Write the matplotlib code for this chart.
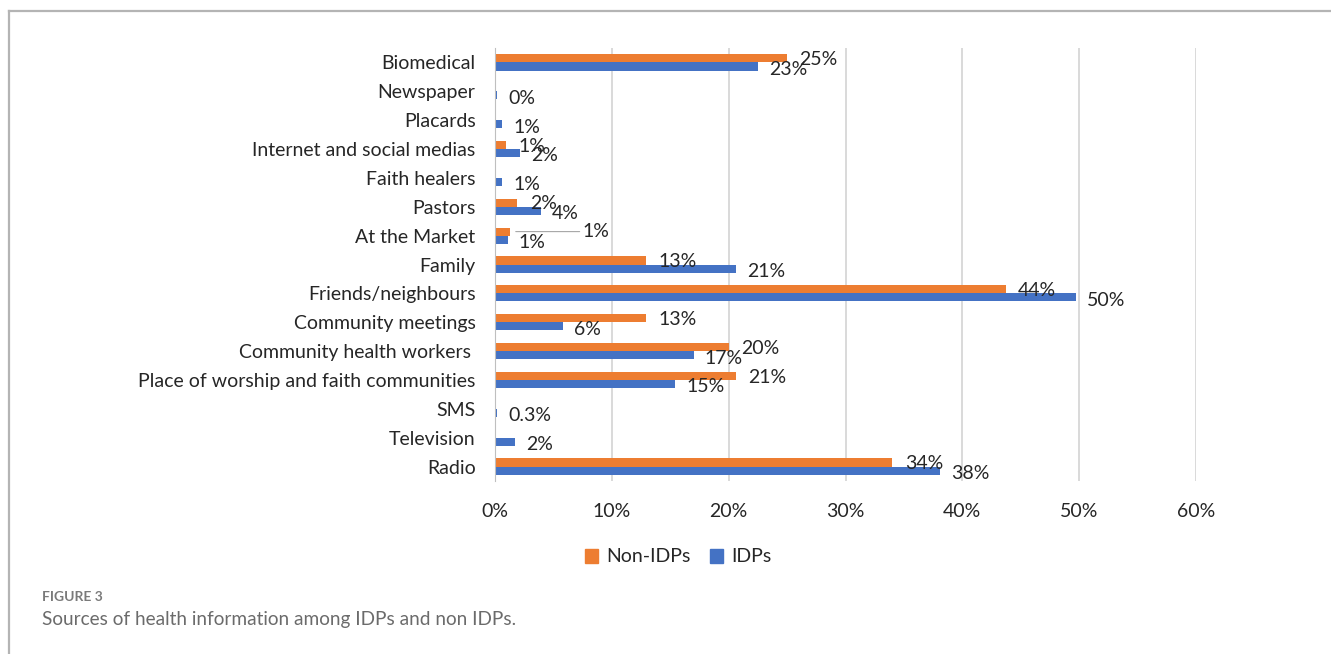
import matplotlib
matplotlib.use("Agg")
import matplotlib.pyplot as plt
from matplotlib.lines import Line2D
from matplotlib.patches import Patch
import numpy as np

plt.rcParams['font.family'] = ['Lato', 'DejaVu Sans']

categories = ['Biomedical', 'Newspaper', 'Placards', 'Internet and social medias',
              'Faith healers', 'Pastors', 'At the Market', 'Family',
              'Friends/neighbours', 'Community meetings', 'Community health workers ',
              'Place of worship and faith communities', 'SMS', 'Television', 'Radio']
non_idps = [25.0, 0, 0, 0.9, 0, 1.9, 1.3, 12.9, 43.7, 12.9, 20.0, 20.6, 0, 0, 34.0]
idps = [22.5, 0.2, 0.6, 2.1, 0.6, 3.9, 1.1, 20.6, 49.7, 5.8, 17.0, 15.4, 0.2, 1.7, 38.1]
non_labels = ['25%', '', '', '1%', '', '2%', '1%', '13%', '44%', '13%', '20%', '21%', '', '', '34%']
idp_labels = ['23%', '0%', '1%', '2%', '1%', '4%', '1%', '21%', '50%', '6%', '17%', '15%',
              '0.3%', '2%', '38%']
xticks = [0, 10, 20, 30, 40, 50, 60]

orange = '#ED7D31'
blue = '#4472C4'
txt = '#262626'
fs = 14

W, H = 1331, 654
fig = plt.figure(figsize=(W / 100, H / 100), dpi=100)

# card frame (top and left edges)
fig.add_artist(Line2D([9 / W, 1], [1 - 11 / H, 1 - 11 / H], color='#b4b4b4', lw=1.6))
fig.add_artist(Line2D([9 / W, 9 / W], [0, 1 - 11 / H], color='#b4b4b4', lw=1.6))

ax = fig.add_axes([495 / W, 1 - 481 / H, (1196 - 495) / W, (481 - 48) / H])

y = np.arange(len(categories))
h = 0.28
ax.barh(y - 0.14, non_idps, height=h, color=orange, label='Non-IDPs', zorder=3)
ax.barh(y + 0.14, idps, height=h, color=blue, label='IDPs', zorder=3)

for i in range(len(categories)):
    if non_labels[i]:
        if categories[i] == 'At the Market':
            ax.annotate(non_labels[i], (non_idps[i], y[i] - 0.14), xytext=(52, 0),
                        textcoords='offset points', va='center', ha='left',
                        fontsize=fs, color=txt,
                        arrowprops=dict(arrowstyle='-', color='#a6a6a6', lw=0.8,
                                        shrinkA=0, shrinkB=4))
        else:
            ax.annotate(non_labels[i], (non_idps[i], y[i] - 0.1), xytext=(9, 0),
                        textcoords='offset points', va='center', ha='left',
                        fontsize=fs, color=txt)
    ax.annotate(idp_labels[i], (idps[i], y[i] + 0.24), xytext=(8, 0),
                textcoords='offset points', va='center', ha='left',
                fontsize=fs, color=txt)

ax.set_xlim(0, 60)
ax.set_ylim(len(categories) - 0.5, -0.5)
ax.set_yticks(y)
ax.set_yticklabels(categories, fontsize=fs, color=txt)
ax.set_xticks(xticks)
ax.set_xticklabels([f'{t}%' for t in xticks], fontsize=fs, color=txt)
ax.tick_params(axis='y', length=0, pad=14)
ax.tick_params(axis='x', length=0, pad=16)
ax.grid(axis='x', color='#d9d9d9', lw=1.4, zorder=0)
for s in ['top', 'right', 'bottom']:
    ax.spines[s].set_visible(False)
ax.spines['left'].set_color('#bfbfbf')
ax.spines['left'].set_zorder(4)

handles = [Patch(color=orange, label='Non-IDPs'), Patch(color=blue, label='IDPs')]
fig.legend(handles=handles, loc='center', bbox_to_anchor=(678 / W, 1 - 557 / H), ncol=2,
           frameon=False, fontsize=fs, handlelength=0.7, handleheight=0.7,
           handletextpad=0.4, columnspacing=1.0, labelcolor=txt)

fig.text(42 / W, 1 - 597 / H, 'FIGURE 3', fontsize=10, color='#7a7a7a',
         fontweight='bold', va='center', ha='left')
fig.text(42 / W, 1 - 620 / H, 'Sources of health information among IDPs and non IDPs.',
         fontsize=13.7, color='#6b6b6b', va='center', ha='left')

fig.savefig('out.png', dpi=100)
